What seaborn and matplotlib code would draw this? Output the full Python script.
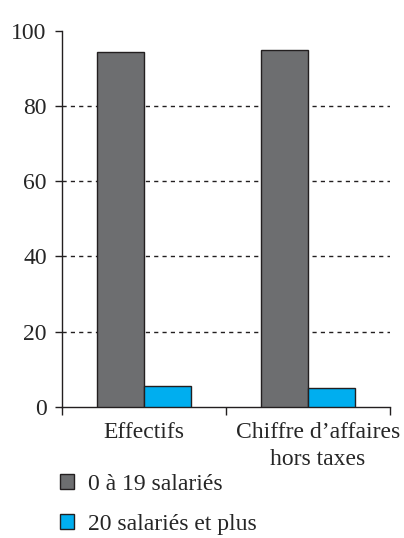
import matplotlib
matplotlib.use("Agg")
import matplotlib.pyplot as plt
import matplotlib.transforms as mtransforms
from matplotlib.patches import Patch
import seaborn as sns
import pandas as pd

categories = ["Effectifs", "Chiffre d\u2019affaires\nhors taxes"]
series_names = ["0 à 19 salariés", "20 salariés et plus"]
small_firms = [94.4, 94.9]
large_firms = [5.6, 5.1]
y_ticks = [0, 20, 40, 60, 80, 100]
colors = ["#6D6E70", "#00AEEF"]

df = pd.DataFrame({
    "cat": categories * 2,
    "series": [series_names[0]] * 2 + [series_names[1]] * 2,
    "value": small_firms + large_firms,
})

sns.set_style("white")
plt.rcParams["font.family"] = ["Liberation Serif", "DejaVu Serif"]
plt.rcParams["ytick.left"] = True
plt.rcParams["xtick.bottom"] = True

fig = plt.figure(figsize=(4.04, 5.38), dpi=100)
ax = fig.add_axes([62/404, 1 - 406.7/538, (390-62)/404, (406.7-30.7)/538])

sns.barplot(data=df, x="cat", y="value", hue="series", palette=colors,
            width=0.575, edgecolor="#231F20", linewidth=1.0, saturation=1,
            ax=ax, legend=False, zorder=3)

ax.set_xlim(-0.5, 1.5)
ax.set_ylim(0, 100)
ax.set_yticks(y_ticks)
ax.set_yticklabels([str(v) for v in y_ticks], fontsize=17)
for v in y_ticks[1:-1]:
    ax.axhline(v, color="#231F20", lw=1.0, ls=(0, (3, 3)), zorder=1)

ax.set_xticks([0, 1])
ax.set_xticklabels(categories, fontsize=17, linespacing=1.35)
ax.set_xticks([-0.5, 0.5, 1.5], minor=True)
ax.tick_params(axis="x", which="major", bottom=True, length=0, pad=11)
ax.tick_params(axis="x", which="minor", bottom=True, length=6, width=1, direction="out", color="#231F20")
ax.tick_params(axis="y", which="major", left=True, length=5, width=1, direction="out", color="#231F20", pad=6)
ax.set_xlabel("")
ax.set_ylabel("")
for lbl in ax.get_xticklabels()[1:]:
    lbl.set_transform(lbl.get_transform() + mtransforms.ScaledTranslation(10/100, 0, fig.dpi_scale_trans))

for s in ["top", "right"]:
    ax.spines[s].set_visible(False)
for s in ["left", "bottom"]:
    ax.spines[s].set_color("#231F20")
    ax.spines[s].set_linewidth(1.0)

handles = [Patch(facecolor=c, edgecolor="#231F20", linewidth=1.0) for c in colors]
fig.legend(handles, series_names, loc="upper left",
           bbox_to_anchor=(60/404, 1 - 474/538), frameon=False, fontsize=17,
           handlelength=0.6, handleheight=0.6, handletextpad=0.6,
           labelspacing=0.8, borderpad=0, borderaxespad=0)

fig.savefig("out.png", dpi=100)
